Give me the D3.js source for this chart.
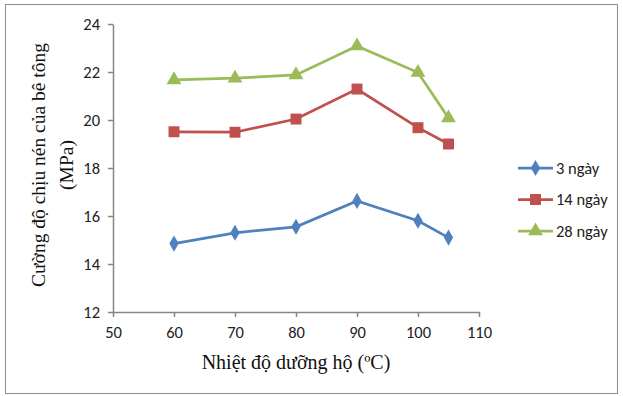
<!DOCTYPE html>
<html>
<head>
<meta charset="utf-8">
<script src="https://cdn.jsdelivr.net/npm/d3@7"></script>
<style>
  body { margin: 0; background: #fff; }
  svg { display: block; }
</style>
</head>
<body>
<svg id="chart" width="623" height="396"></svg>
<script>
// data
const temps = [60, 70, 80, 90, 100, 105];
const day3 = [14.85, 15.3, 15.55, 16.63, 15.8, 15.1];
const day14 = [19.51, 19.49, 20.04, 21.29, 19.68, 19.0];
const day28 = [21.67, 21.74, 21.88, 23.08, 21.98, 20.08];
const seriesNames = ["3 ngày", "14 ngày", "28 ngày"];
const xTicks = [50, 60, 70, 80, 90, 100, 110];
const yTicks = [12, 14, 16, 18, 20, 22, 24];

const svg = d3.select("#chart");
const axisCol = "#868686";
const sans = "Carlito, Lato, 'Liberation Sans', sans-serif";
const serif = "'Liberation Serif', 'DejaVu Serif', serif";

svg.append("rect")
  .attr("x", 5.5).attr("y", 4.5)
  .attr("width", 612).attr("height", 389)
  .attr("fill", "#fff").attr("stroke", "#8c8c8c").attr("stroke-width", 1);

const x = d3.scaleLinear().domain([50, 110]).range([113, 479]);
const y = d3.scaleLinear().domain([12, 24]).range([312, 24]);

// axes
const gx = svg.append("g").attr("transform", "translate(0,312)")
  .call(d3.axisBottom(x).tickValues(xTicks).tickSize(5).tickSizeOuter(0).tickPadding(9));
const gy = svg.append("g").attr("transform", "translate(113,0)")
  .call(d3.axisLeft(y).tickValues(yTicks).tickSize(5).tickSizeOuter(0).tickPadding(8));

[gx, gy].forEach(g => {
  g.select(".domain").attr("stroke", axisCol).attr("stroke-width", 1.5);
  g.selectAll(".tick line").attr("stroke", axisCol).attr("stroke-width", 1.5);
  g.selectAll(".tick text")
    .attr("fill", "#222")
    .style("font-family", sans)
    .style("font-size", "16.5px");
});

// axis titles
svg.append("text")
  .attr("x", 296).attr("y", 369)
  .attr("text-anchor", "middle")
  .style("font-family", serif)
  .style("font-size", "20px")
  .attr("fill", "#111")
  .text("Nhiệt độ dưỡng hộ (ºC)");

const yt = svg.append("text")
  .attr("transform", "translate(45,165) rotate(-90)")
  .attr("text-anchor", "middle")
  .style("font-family", serif)
  .style("font-size", "19.5px")
  .attr("fill", "#111");
yt.append("tspan").attr("x", 0).attr("y", 0).text("Cường độ chịu nén của bê tông");
yt.append("tspan").attr("x", 0).attr("y", 28).text("(MPa)");

const series = [
  { name: seriesNames[0], values: day3, color: "#4F81BD", shape: d3.symbolDiamond, size: 75 },
  { name: seriesNames[1], values: day14, color: "#C0504D", shape: d3.symbolSquare, size: 120 },
  { name: seriesNames[2], values: day28, color: "#9BBB59", shape: d3.symbolTriangle, size: 95 }
];

const line = d3.line().x((d, i) => x(temps[i])).y(d => y(d));

series.forEach(s => {
  svg.append("path")
    .datum(s.values)
    .attr("d", line)
    .attr("fill", "none")
    .attr("stroke", s.color)
    .attr("stroke-width", 2.75);
  svg.selectAll(null)
    .data(s.values)
    .join("path")
    .attr("transform", (d, i) => `translate(${x(temps[i])},${y(d)})`)
    .attr("d", d3.symbol(s.shape, s.size)())
    .attr("fill", s.color);
});

// legend
const legY = d3.scalePoint().domain(seriesNames).range([168, 231]);
series.forEach(s => {
  const g = svg.append("g").attr("transform", `translate(518,${legY(s.name)})`);
  g.append("line").attr("x1", 0).attr("x2", 35)
    .attr("stroke", s.color).attr("stroke-width", 2.75);
  g.append("path")
    .attr("transform", "translate(17.5,0)")
    .attr("d", d3.symbol(s.shape, s.size)())
    .attr("fill", s.color);
  g.append("text")
    .attr("x", 38).attr("y", 5.5)
    .style("font-family", sans)
    .style("font-size", "16.5px")
    .attr("fill", "#222")
    .text(s.name);
});
</script>
</body>
</html>
